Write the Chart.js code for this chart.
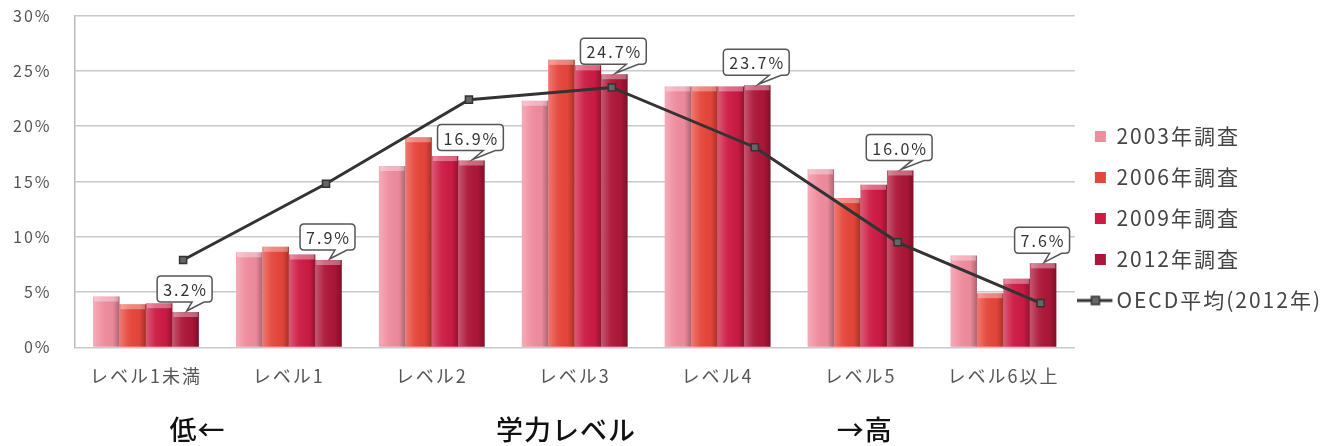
<!DOCTYPE html>
<html>
<head>
<meta charset="utf-8">
<script src="https://cdn.jsdelivr.net/npm/chart.js@4.4.1/dist/chart.umd.min.js"></script>
<style>
  html, body { margin: 0; padding: 0; background: #ffffff; }
  #wrap { position: relative; width: 1332px; height: 446px; }
</style>
</head>
<body>
<div id="wrap"><canvas id="c" width="1332" height="446"></canvas></div>
<script>
// ---- data ----
const categories = ['レベル1未満', 'レベル1', 'レベル2', 'レベル3', 'レベル4', 'レベル5', 'レベル6以上'];
const seriesNames = ['2003年調査', '2006年調査', '2009年調査', '2012年調査'];
const s2003 = [4.6, 8.6, 16.4, 22.3, 23.6, 16.1, 8.3];
const s2006 = [3.9, 9.1, 19.0, 26.0, 23.6, 13.5, 4.9];
const s2009 = [4.0, 8.4, 17.3, 25.5, 23.6, 14.7, 6.2];
const s2012 = [3.2, 7.9, 16.9, 24.7, 23.7, 16.0, 7.6];
const oecdName = 'OECD平均(2012年)';
const oecd = [7.9, 14.8, 22.4, 23.5, 18.1, 9.5, 4.0];
const yMax = 30;
const yStep = 5;
const bottomTexts = ['低←', '学力レベル', '→高'];

// ---- styles ----
const FONT = "'Noto Sans CJK JP', 'Noto Sans', sans-serif";
const barColors = ['#ef8c9e', '#e6453a', '#cd1b44', '#ad1638'];
const LINE_SHIFT = 0.26; // line markers sit over the last bar of each group (fraction of a category)
const LETTER_SPACING = '2px';

const lineIcon = (() => {
  const c = document.createElement('canvas');
  c.width = 46; c.height = 14;
  const g = c.getContext('2d');
  g.strokeStyle = '#333'; g.lineWidth = 3;
  g.beginPath(); g.moveTo(0, 7); g.lineTo(35, 7); g.stroke();
  g.fillStyle = '#666'; g.strokeStyle = '#333'; g.lineWidth = 1.5;
  g.fillRect(14, 3, 8, 8); g.strokeRect(14, 3, 8, 8);
  return c;
})();

const spacing = {
  id: 'spacing',
  beforeUpdate(chart) { chart.ctx.letterSpacing = LETTER_SPACING; },
  beforeLayout(chart) { chart.ctx.letterSpacing = LETTER_SPACING; },
  beforeDraw(chart) { chart.ctx.letterSpacing = LETTER_SPACING; }
};

const lineShift = {
  id: 'lineShift',
  beforeDatasetDraw(chart, args) {
    if (args.meta.type !== 'line') return;
    const xs = chart.scales.x;
    const dx = LINE_SHIFT * (xs.getPixelForValue(1) - xs.getPixelForValue(0));
    chart.ctx.save();
    chart.ctx.translate(dx, 0);
  },
  afterDatasetDraw(chart, args) {
    if (args.meta.type !== 'line') return;
    chart.ctx.restore();
  }
};

const barShade = {
  id: 'barShade',
  afterDatasetDraw(chart, args) {
    const meta = args.meta;
    if (meta.type !== 'bar') return;
    const ctx = chart.ctx;
    ctx.save();
    meta.data.forEach(el => {
      const p = el.getProps(['x', 'y', 'base', 'width'], true);
      const l = p.x - p.width / 2, w = p.width, t = p.y, h = p.base - p.y;
      const g = ctx.createLinearGradient(l, 0, l + w, 0);
      g.addColorStop(0, 'rgba(255,255,255,0.28)');
      g.addColorStop(0.35, 'rgba(255,255,255,0.05)');
      g.addColorStop(0.75, 'rgba(0,0,0,0.02)');
      g.addColorStop(1, 'rgba(0,0,0,0.28)');
      ctx.fillStyle = g;
      ctx.fillRect(l, t, w, h);
      ctx.fillStyle = 'rgba(255,255,255,0.35)';
      ctx.fillRect(l + 1, t, w - 2, Math.min(5, h));
    });
    ctx.restore();
  }
};

const valueBoxes = {
  id: 'valueBoxes',
  afterDatasetsDraw(chart) {
    const meta = chart.getDatasetMeta(3);
    const ctx = chart.ctx;
    ctx.save();
    ctx.font = '16px ' + FONT;
    ctx.textAlign = 'center';
    ctx.textBaseline = 'middle';
    meta.data.forEach((el, i) => {
      const txt = s2012[i].toFixed(1) + '%';
      const tw = ctx.measureText(txt).width;
      const bw = tw + 10, bh = 26;
      const cx = el.x - 1, by = el.y - 10 - bh;
      const r = 4;
      ctx.beginPath();
      ctx.moveTo(cx - bw / 2 + r, by);
      ctx.lineTo(cx + bw / 2 - r, by);
      ctx.quadraticCurveTo(cx + bw / 2, by, cx + bw / 2, by + r);
      ctx.lineTo(cx + bw / 2, by + bh - r);
      ctx.quadraticCurveTo(cx + bw / 2, by + bh, cx + bw / 2 - r, by + bh);
      ctx.lineTo(cx + bw / 2 - 8, by + bh);
      ctx.lineTo(cx + 2, el.y - 1);
      ctx.lineTo(cx + bw / 2 - 20, by + bh);
      ctx.lineTo(cx - bw / 2 + r, by + bh);
      ctx.quadraticCurveTo(cx - bw / 2, by + bh, cx - bw / 2, by + bh - r);
      ctx.lineTo(cx - bw / 2, by + r);
      ctx.quadraticCurveTo(cx - bw / 2, by, cx - bw / 2 + r, by);
      ctx.closePath();
      ctx.fillStyle = '#ffffff';
      ctx.fill();
      ctx.strokeStyle = '#555';
      ctx.lineWidth = 1.5;
      ctx.stroke();
      ctx.fillStyle = '#333';
      ctx.fillText(txt, cx + 1, by + bh / 2 + 1);
    });
    ctx.restore();
  }
};

const bottomLabels = {
  id: 'bottomLabels',
  afterDraw(chart) {
    const xs = chart.scales.x;
    const ctx = chart.ctx;
    ctx.save();
    ctx.letterSpacing = '1px';
    ctx.font = '500 27px ' + FONT;
    ctx.fillStyle = '#111';
    ctx.textAlign = 'center';
    ctx.textBaseline = 'middle';
    const y = chart.height - 16;
    ctx.fillText(bottomTexts[0], xs.getPixelForValue(0.36), y);
    ctx.fillText(bottomTexts[1], xs.getPixelForValue(2.94), y);
    ctx.fillText(bottomTexts[2], xs.getPixelForValue(5.03), y);
    ctx.restore();
  }
};

const barDs = [s2003, s2006, s2009, s2012].map((d, i) => ({
  type: 'bar',
  label: seriesNames[i],
  data: d,
  backgroundColor: barColors[i],
  borderWidth: 0,
  categoryPercentage: 0.74,
  barPercentage: 1.0,
  pointStyle: 'rect',
  order: 1
}));

const lineDs = {
  type: 'line',
  label: oecdName,
  data: oecd,
  borderColor: '#333',
  borderWidth: 3,
  pointStyle: 'rect',
  pointRadius: 5,
  pointBackgroundColor: '#666',
  pointBorderColor: '#333',
  pointBorderWidth: 1.5,
  tension: 0,
  order: 0
};

new Chart(document.getElementById('c'), {
  type: 'bar',
  data: { labels: categories, datasets: [...barDs, lineDs] },
  options: {
    responsive: false,
    animation: false,
    layout: { padding: { left: 7, top: 3, right: 0, bottom: 12 } },
    plugins: {
      tooltip: { enabled: false },
      legend: {
        position: 'right',
        labels: {
          font: { family: FONT, size: 21 },
          color: '#444',
          usePointStyle: true,
          boxWidth: 11,
          boxHeight: 11,
          padding: 20,
          sort: (a, b) => a.datasetIndex - b.datasetIndex,
          generateLabels(chart) {
            const items = Chart.defaults.plugins.legend.labels.generateLabels(chart);
            items.forEach(it => {
              if (it.datasetIndex === 4) { it.pointStyle = lineIcon; }
              else { it.pointStyle = 'rect'; it.lineWidth = 0; it.strokeStyle = it.fillStyle; }
            });
            return items;
          }
        }
      }
    },
    scales: {
      x: {
        type: 'category',
        offset: true,
        grid: { display: false, drawTicks: false },
        border: { display: false },
        ticks: { font: { family: FONT, size: 18 }, color: '#555', padding: 18 },
        title: { display: true, text: ' ', font: { family: FONT, size: 10 }, padding: { top: 17, bottom: 0 } }
      },
      y: {
        min: 0,
        max: yMax,
        ticks: { stepSize: yStep, callback: v => v + '%', font: { family: FONT, size: 16 }, color: '#555', padding: 6 },
        grid: { color: '#c9c9c9', lineWidth: 1.5, drawTicks: true, tickLength: 17, tickColor: 'rgba(0,0,0,0)' },
        border: { display: true, color: '#bbb', width: 1.5 }
      }
    }
  },
  plugins: [spacing, lineShift, barShade, valueBoxes, bottomLabels]
});
</script>
</body>
</html>
